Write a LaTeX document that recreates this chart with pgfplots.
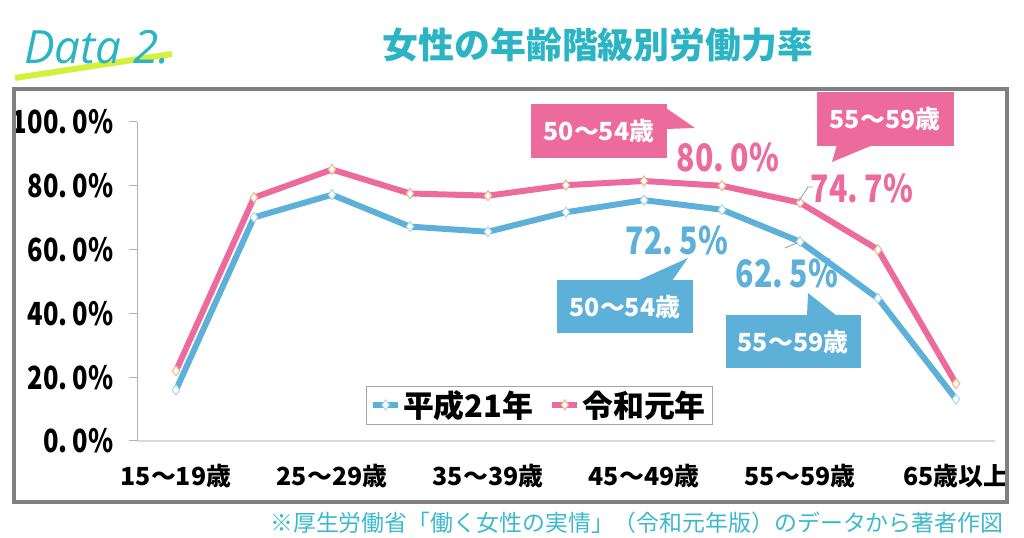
\documentclass[border=0pt]{standalone}
\usepackage{pgfplots}
\pgfplotsset{compat=1.18}
\usepackage{fontspec}
\newfontfamily\cjk{Noto Sans CJK JP}
\newfontfamily\cjkc[FakeStretch=0.8]{Noto Sans CJK JP}
\newfontfamily\datafont{Open Sans}

\definecolor{ttl}{HTML}{2AB4C4}
\definecolor{note}{HTML}{3CB9CC}
\definecolor{cblue}{HTML}{5DB1D9}
\definecolor{cpink}{HTML}{EC6B9C}
\definecolor{mblue}{HTML}{A8D8F0}
\definecolor{mpink}{HTML}{F5B183}
\definecolor{lime}{HTML}{D2F03C}
\definecolor{framegray}{HTML}{808080}

\begin{document}
\begin{tikzpicture}
\useasboundingbox (0bp,0bp) rectangle (1024bp,538bp);

\begin{axis}[
    at={(137bp,97bp)}, anchor=south west,
    scale only axis, width=858bp, height=319bp,
    xmin=-0.5, xmax=10.5, ymin=0, ymax=100,
    clip=false,
    axis x line*=bottom, axis y line*=left,
    x axis line style={draw=black!15, line width=1.5bp, -},
    y axis line style={draw=black!30, line width=1bp, -},
    xtick={0,2,...,10},
    xticklabels={15～19歳,25～29歳,35～39歳,45～49歳,55～59歳,65歳以上},
    x tick style={draw=none},
    x tick label style={font=\cjk\bfseries\fontsize{25}{25}\selectfont, yshift=-12bp},
    ytick={0,20,...,100},
    yticklabels={0.\,0\%,20.\,0\%,40.\,0\%,60.\,0\%,80.\,0\%,100.\,0\%},
    tick align=outside, major tick length=8bp,
    y tick style={draw=black!30, line width=1bp},
    y tick label style={font=\cjkc\bfseries\fontsize{32}{32}\selectfont, xshift=-12bp},
    legend columns=2,
    legend style={at={(0.4685,0.113)}, anchor=center, draw=black!35,
        font=\cjk\bfseries\fontsize{31}{31}\selectfont,
        inner xsep=4bp, inner ysep=3bp,
        /tikz/every even column/.append style={column sep=14bp}},
    legend image code/.code={
        \draw[#1, mark repeat=2, mark phase=2] plot coordinates {(0bp,0bp) (12.5bp,0bp) (25bp,0bp)};
    },
]
\addplot[cblue, line width=6bp, mark=diamond*, mark size=5bp,
    mark options={fill=white, draw=mblue, line width=1bp}] coordinates {
    (0,16.0) (1,70.1) (2,77.2) (3,67.2) (4,65.6) (5,71.7)
    (6,75.5) (7,72.5) (8,62.5) (9,44.7) (10,13.1)
};
\addplot[cpink, line width=6bp, mark=diamond*, mark size=5bp,
    mark options={fill=white, draw=mpink, line width=1bp}] coordinates {
    (0,22.0) (1,76.3) (2,85.1) (3,77.6) (4,76.9) (5,80.2)
    (6,81.5) (7,80.0) (8,74.7) (9,60.0) (10,18.0)
};
\legend{平成21年, 令和元年}
\end{axis}

% annotations in pixel coordinates, origin top-left
\begin{scope}[x=1bp, y=-1bp, shift={(0bp,538bp)}]
\draw[framegray, line width=4bp] (14,89) rectangle (1007,502);
\draw[lime, line width=6bp] (15,78) -- (172,54);
\node[ttl, anchor=base west, inner sep=0pt,
      font=\datafont\itshape\fontsize{46}{46}\selectfont] at (24,64) {Data 2.};
\node[ttl, font=\cjk\bfseries\fontsize{36}{36}\selectfont] at (598,45) {女性の年齢階級別労働力率};

\fill[cpink] (531,104) rectangle (667,158);
\fill[cpink] (666,108) -- (695,128) -- (666,129) -- cycle;
\node[white, font=\cjk\bfseries\fontsize{25}{25}\selectfont] at (599,131) {50～54歳};

\fill[cpink] (817,92) rectangle (954,146);
\fill[cpink] (837,145) -- (832,162) -- (873,145) -- cycle;
\node[white, font=\cjk\bfseries\fontsize{25}{25}\selectfont] at (885,119) {55～59歳};

\fill[cblue] (557,280) rectangle (693,333);
\fill[cblue] (637,281) -- (688,258) -- (672,281) -- cycle;
\node[white, font=\cjk\bfseries\fontsize{25}{25}\selectfont] at (625,307) {50～54歳};

\fill[cblue] (726,315) rectangle (861,368);
\fill[cblue] (807,316) -- (808,293) -- (837,316) -- cycle;
\node[white, font=\cjk\bfseries\fontsize{25}{25}\selectfont] at (793,342) {55～59歳};

\node[cpink, font=\cjkc\bfseries\fontsize{38}{38}\selectfont] at (728,157) {80.\,0\%};
\node[cpink, font=\cjkc\bfseries\fontsize{38}{38}\selectfont] at (862,188) {74.\,7\%};
\node[cblue, font=\cjkc\bfseries\fontsize{38}{38}\selectfont] at (677,240) {72.\,5\%};
\node[cblue, font=\cjkc\bfseries\fontsize{38}{38}\selectfont] at (787,273) {62.\,5\%};
\draw[black!40, line width=0.8bp] (799,201) -- (808,187) -- (813,187);
\draw[black!40, line width=0.8bp] (797,243) -- (785,248);

\node[note, anchor=east, font=\cjk\fontsize{23}{23}\selectfont] at (1007,523)
    {※厚生労働省「働く女性の実情」（令和元年版）のデータから著者作図};
\end{scope}
\end{tikzpicture}
\end{document}
